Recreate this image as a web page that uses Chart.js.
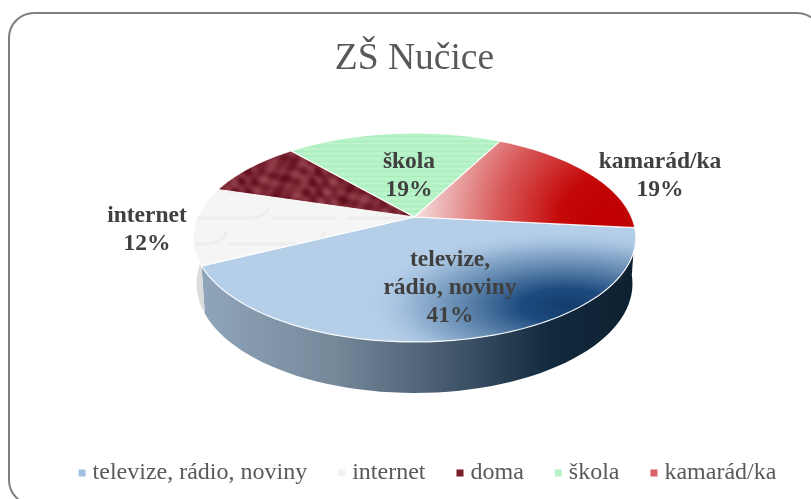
<!DOCTYPE html>
<html lang="cs"><head><meta charset="utf-8">
<script src="https://cdn.jsdelivr.net/npm/chart.js@4/dist/chart.umd.min.js"></script>
<style>
html,body{margin:0;padding:0;background:#fff;overflow:hidden}
#frame{position:absolute;left:8px;top:12px;width:815px;height:494px;border:2px solid #7f7f7f;border-radius:26px;box-sizing:border-box}
canvas{position:absolute;left:0;top:0}
</style></head><body>
<div id="frame"></div>
<canvas id="c" width="811" height="499"></canvas>
<script>
const chartTitle = 'ZŠ Nučice';
const categories = ['televize, rádio, noviny','internet','doma','škola','kamarád/ka'];
const shares = [41,12,9,19,19];
const legendColors = ['#a3c2e2','#f2f2f2','#7a1e28','#b6f2c6','#d9626a'];
const labelLines = [['televize,','rádio, noviny'],['internet'],null,['škola'],['kamarád/ka']];
const labelCenters = [[450,288],[147,230],null,[409,176],[660,176]];

const APEX_Y = 217, SQUASH = 0.463, K = -0.196;
const SERIF = '"Liberation Serif","Times New Roman",serif';

function project(arc, theta){
  const u = Math.cos(theta), v = Math.sin(theta), d = 1 + K*v, R = arc.outerRadius;
  return [arc.x + R*u/d, APEX_Y + R*SQUASH*v/d];
}
function lowered(arc, p, theta){
  return [arc.x + (p[0]-arc.x)*0.985, p[1] + 45 + 6*Math.sin(theta)];
}
function slicePath(ctx, arc){
  const a = arc.startAngle, b = arc.endAngle, n = 80;
  ctx.beginPath();
  ctx.moveTo(arc.x, APEX_Y);
  for(let i=0;i<=n;i++){
    const p = project(arc, a+(b-a)*i/n);
    ctx.lineTo(p[0],p[1]);
  }
  ctx.closePath();
}
function tile(w,h,paint){
  const c = document.createElement('canvas'); c.width=w; c.height=h;
  paint(c.getContext('2d'),w,h); return c;
}
const greenTile = tile(8,5,(g,w,h)=>{
  g.fillStyle='#b5f3c6'; g.fillRect(0,0,w,h);
  g.fillStyle='#abeebd'; g.fillRect(0,1,w,1);
  g.fillStyle='#bff5ce'; g.fillRect(0,3,w,1);
});
const redTile = tile(240,120,(g,w,h)=>{
  const img = g.createImageData(w,h), T=2*Math.PI;
  for(let y=0;y<h;y++)for(let x=0;x<w;x++){
    const n = 0.7*Math.sin((7*x+y*6)*T/240+Math.sin(y*T/120)*2)+0.8*Math.sin((11*x-y*13)*T/240+Math.sin(x*T/80)*2.5)+0.6*Math.sin((17*x+y*10)*T/240+1)+0.5*Math.sin((4*x-y*22)*T/240+2);
    const t = Math.max(0,Math.min(1,0.36+n*0.2)), i=(y*w+x)*4;
    img.data[i]=100+t*62; img.data[i+1]=16+t*62; img.data[i+2]=30+t*60; img.data[i+3]=255;
  }
  g.putImageData(img,0,0);
});
const brickTile = tile(170,52,(g,w,h)=>{
  g.fillStyle='#f6f5f5'; g.fillRect(0,0,w,h);
  g.strokeStyle='#eeecec'; g.lineWidth=3; g.lineCap='round';
  g.beginPath();
  g.moveTo(8,10); g.lineTo(78,10); g.quadraticCurveTo(96,10,98,0);
  g.moveTo(104,10); g.lineTo(165,10);
  g.moveTo(0,36); g.lineTo(40,36); g.quadraticCurveTo(54,34,56,24);
  g.moveTo(60,36); g.lineTo(140,36); g.quadraticCurveTo(152,34,154,24);
  g.stroke();
});
function paintSlice(ctx, arc, i){
  ctx.save();
  slicePath(ctx, arc);
  if(i===0){
    ctx.fillStyle='#b6cfe9'; ctx.fill(); ctx.clip();
    ctx.translate(566,306); ctx.scale(1,0.38);
    const g = ctx.createRadialGradient(0,0,0,0,0,205);
    g.addColorStop(0,'#143c6c'); g.addColorStop(0.22,'#1d4a7e');
    g.addColorStop(0.5,'#5f86ae'); g.addColorStop(0.8,'#a2bfdd'); g.addColorStop(1,'rgba(182,207,233,0)');
    ctx.fillStyle=g; ctx.fillRect(-400,-400,800,800);
  }else if(i===4){
    const g = ctx.createRadialGradient(606,222,10,606,222,190);
    g.addColorStop(0,'#c00000'); g.addColorStop(0.2,'#c40808');
    g.addColorStop(0.55,'#d95a5a'); g.addColorStop(1,'#f6dede');
    ctx.fillStyle=g; ctx.fill();
  }else{
    ctx.fillStyle = ctx.createPattern(i===1?brickTile:i===2?redTile:greenTile,'repeat');
    ctx.fill();
  }
  ctx.restore();
  ctx.save();
  slicePath(ctx, arc);
  ctx.strokeStyle='rgba(255,255,255,0.9)'; ctx.lineWidth=1.2; ctx.lineJoin='round';
  ctx.stroke();
  ctx.restore();
}
function wall(ctx, arc, a, b, fill){
  const n = 60;
  ctx.beginPath();
  for(let i=0;i<=n;i++){
    const t=a+(b-a)*i/n, p=project(arc,t);
    ctx.lineTo(p[0],p[1]);
  }
  for(let i=n;i>=0;i--){
    const t=a+(b-a)*i/n, p=lowered(arc,project(arc,t),t);
    ctx.lineTo(p[0],p[1]);
  }
  ctx.closePath(); ctx.fillStyle=fill; ctx.fill();
}
const solid3d = {
  id:'solid3d',
  afterLayout(chart){
    const L = chart.legend;
    L.left += 13; L.right += 13;
  },
  afterUpdate(chart){
    chart.getDatasetMeta(0).data.forEach((arc,i)=>{
      arc.draw = function(ctx){ paintSlice(ctx,this,i); };
    });
  },
  beforeDatasetsDraw(chart){
    const ctx = chart.ctx, arcs = chart.getDatasetMeta(0).data, blue = arcs[0], net = arcs[1];
    const g = ctx.createLinearGradient(205,0,636,0);
    g.addColorStop(0,'#8ea4b8'); g.addColorStop(0.3,'#76899b'); g.addColorStop(0.55,'#475c70');
    g.addColorStop(0.8,'#122a3e'); g.addColorStop(1,'#0d2030');
    ctx.save();
    wall(ctx, blue, 0.12, blue.endAngle, g);
    wall(ctx, net, net.startAngle, Math.PI*1.02, '#dcdcdc');
    ctx.restore();
  },
  afterDatasetsDraw(chart){
    const ctx = chart.ctx;
    ctx.save();
    ctx.fillStyle='#404040'; ctx.textAlign='center'; ctx.textBaseline='middle';
    ctx.font='bold 23.5px '+SERIF;
    labelCenters.forEach((c,i)=>{
      if(!c) return;
      const lines = labelLines[i].concat(shares[i]+'%'), lh = 28;
      lines.forEach((s,k)=>ctx.fillText(s,c[0],c[1]+(k-(lines.length-1)/2)*lh));
    });
    ctx.restore();
  },
  afterDraw(chart){
    const ctx = chart.ctx, L = chart.legend;
    ctx.save();
    L.legendHitBoxes.forEach((h,i)=>{
      ctx.fillStyle = legendColors[i];
      ctx.fillRect(h.left, h.top+h.height/2-3.5, 7, 7);
    });
    ctx.restore();
  }
};
new Chart(document.getElementById('c'),{
  type:'pie',
  data:{labels:categories,datasets:[{data:shares,backgroundColor:legendColors,borderWidth:0,hoverOffset:0}]},
  options:{
    responsive:false,animation:false,radius:217,rotation:96,
    layout:{padding:{top:37,left:18,bottom:4}},
    events:[],
    plugins:{
      tooltip:{enabled:false},
      title:{display:true,text:chartTitle,color:'#595959',align:'center',
        font:{family:SERIF,size:37.5,weight:'normal'},padding:{top:0,bottom:0}},
      legend:{position:'bottom',align:'center',
        labels:{boxWidth:2,boxHeight:7,padding:31,color:'#595959',font:{family:SERIF,size:24},
          generateLabels(chart){
            return categories.map((t,i)=>({text:t,fillStyle:'rgba(0,0,0,0)',strokeStyle:'rgba(0,0,0,0)',lineWidth:0,hidden:false,index:i,fontColor:'#595959'}));
          }}}
    }
  },
  plugins:[solid3d]
});
</script>
</body></html>
